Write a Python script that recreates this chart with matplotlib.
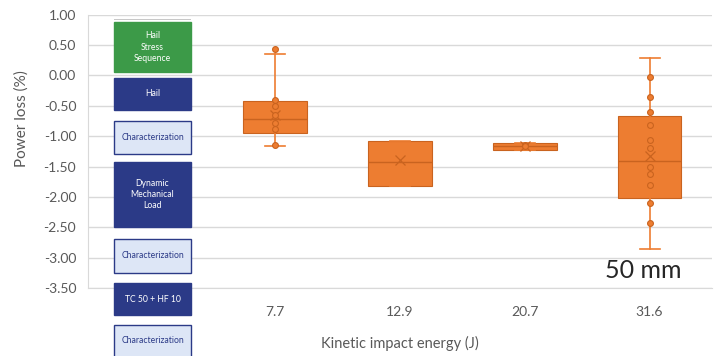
"""
Power loss vs kinetic impact energy (50 mm hail), box-and-whisker chart
with the hail stress sequence flowchart laid over the left part.
"""

import matplotlib
matplotlib.use("Agg")
import matplotlib.pyplot as plt
from matplotlib.patches import Rectangle

plt.rcParams["font.family"] = ["Lato", "DejaVu Sans"]

# ─── Data ────────────────────────────────────────────────────────────────────

categories = ["", "7.7", "12.9", "20.7", "31.6"]

# box statistics for the visible categories (7.7, 12.9, 20.7, 31.6)
q1     = [-0.95, -1.82, -1.23, -2.01]
q3     = [-0.42, -1.08, -1.11, -0.67]
median = [-0.72, -1.42, -1.17, -1.41]
whislo = [-1.17, -1.82, -1.23, -2.85]
whishi = [0.35, -1.08, -1.11, 0.29]
means  = [-0.65, -1.40, -1.16, -1.33]

points_77  = [0.44, -0.40, -0.50, -0.65, -0.78, -0.88, -1.14]
points_129 = []
points_207 = [-1.15, -1.17]
points_316 = [-0.03, -0.36, -0.61, -0.81, -1.06, -1.20, -1.50, -1.62,
              -1.80, -2.10, -2.43]

y_ticks = [1.0, 0.5, 0.0, -0.5, -1.0, -1.5, -2.0, -2.5, -3.0, -3.5]

# flowchart steps: (label, style)
steps = [
    ("Hail\nStress\nSequence", "green"),
    ("Hail", "navy"),
    ("Characterization", "light"),
    ("Dynamic\nMechanical\nLoad", "navy"),
    ("Characterization", "light"),
    ("TC 50 + HF 10", "navy"),
    ("Characterization", "light"),
]
# step vertical extents in pixels from the top (top, bottom)
step_rows = [(22, 72), (78, 110), (121, 154), (162, 227), (239, 273),
             (283, 315), (325, 360)]

ORANGE = "#ed7d31"
ORANGE_DARK = "#c9631f"
GREY_TXT = "#595959"
GRID = "#d9d9d9"

W, H = 716, 356

fig = plt.figure(figsize=(W / 100, H / 100), dpi=100)
fig.patch.set_facecolor("white")
ax = fig.add_axes([88 / W, 1 - 288 / H, 624 / W, (288 - 14.7) / H])

# ─── Boxes ───────────────────────────────────────────────────────────────────

stats = []
for i in range(len(q1)):
    stats.append(dict(q1=q1[i], q3=q3[i], med=median[i], whislo=whislo[i],
                      whishi=whishi[i], mean=means[i], fliers=[]))

positions = list(range(1, len(categories)))
ax.bxp(stats, positions=positions, widths=0.51, patch_artist=True,
       showmeans=True, showfliers=False,
       boxprops=dict(facecolor=ORANGE, edgecolor=ORANGE_DARK, linewidth=0.8),
       medianprops=dict(color=ORANGE_DARK, linewidth=1.0),
       whiskerprops=dict(color=ORANGE, linewidth=1.2),
       capprops=dict(color=ORANGE, linewidth=1.2),
       capwidths=0.16,
       meanprops=dict(marker="x", markeredgecolor=ORANGE_DARK,
                      markersize=7, markeredgewidth=0.9),
       zorder=3)

all_points = [points_77, points_129, points_207, points_316]
for pos, pts in zip(positions, all_points):
    if not pts:
        continue
    ax.plot([pos] * len(pts), pts, linestyle="none", marker="o",
            markersize=4.2, markerfacecolor=ORANGE,
            markeredgecolor=ORANGE_DARK, markeredgewidth=0.8, zorder=4)

# ─── Axes styling ────────────────────────────────────────────────────────────

ax.set_xlim(-0.5, len(categories) - 0.5)
ax.set_ylim(-3.5, 1.0)
ax.set_xticks(range(len(categories)))
ax.set_xticklabels(categories)
ax.set_yticks(y_ticks)
ax.set_yticklabels([f"{v:.2f}" for v in y_ticks])
ax.tick_params(axis="both", length=0, colors=GREY_TXT, labelsize=10)
ax.tick_params(axis="x", pad=13)
ax.tick_params(axis="y", pad=8.5)
ax.grid(axis="y", color=GRID, linewidth=1.0, zorder=0)
ax.set_axisbelow(True)
for side in ("top", "right"):
    ax.spines[side].set_visible(False)
ax.spines["left"].set_color(GRID)
ax.spines["bottom"].set_color(GRID)

fig.text(22 / W, 1 - 119 / H, "Power loss (%)", rotation=90,
         ha="center", va="center", color=GREY_TXT, fontsize=11)
fig.text(400 / W, 1 - 343 / H, "Kinetic impact energy (J)",
         ha="center", va="center", color=GREY_TXT, fontsize=10.5)
fig.text(643 / W, 1 - 271 / H, "50 mm", ha="center", va="center",
         color="#262626", fontsize=18)

# ─── Flowchart overlay ───────────────────────────────────────────────────────

fills = {"green": "#3c9a48", "navy": "#2b3a87", "light": "#dde6f6"}
edges = {"green": "#3c9a48", "navy": "#2b3a87", "light": "#2b3a87"}
text_colors = {"green": "white", "navy": "white", "light": "#2b3a87"}

x0, x1 = 114, 191
fig.add_artist(Rectangle((x0 / W, 1 - 20 / H), (x1 - x0) / W, 1.5 / H,
                         transform=fig.transFigure, facecolor="#c8c8c8",
                         edgecolor="none", zorder=5))
for (label, style), (top, bottom) in zip(steps, step_rows):
    rect = Rectangle((x0 / W, 1 - bottom / H), (x1 - x0) / W,
                     (bottom - top) / H, transform=fig.transFigure,
                     facecolor=fills[style], edgecolor=edges[style],
                     linewidth=1.0, zorder=5)
    fig.add_artist(rect)
    bottom_vis = min(bottom, H)
    fig.text((x0 + x1) / 2 / W, 1 - (top + bottom_vis) / 2 / H, label,
             ha="center", va="center", color=text_colors[style],
             fontsize=6.2, linespacing=1.3, zorder=6)

fig.savefig("out.png", dpi=100)
